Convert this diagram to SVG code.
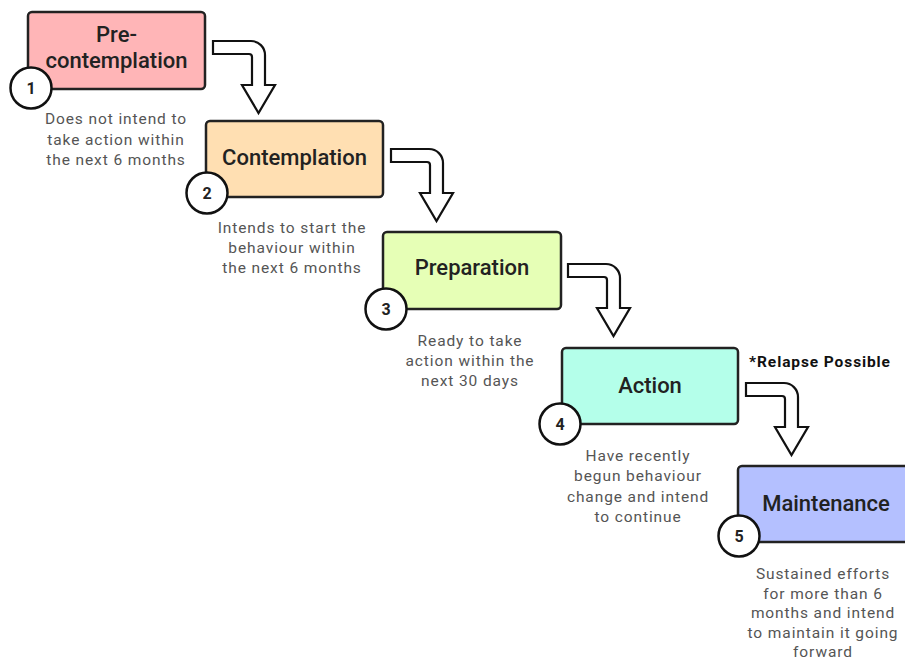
<svg xmlns="http://www.w3.org/2000/svg" width="905" height="661" viewBox="0 0 905 661">
<defs>
<style>
.box{stroke:#222;stroke-width:2.5}
.title{font-family:Roboto,"Liberation Sans",sans-serif;font-weight:500;font-size:22px;fill:#222;text-anchor:middle}
.desc{font-family:Roboto,"Liberation Sans",sans-serif;font-size:15.5px;letter-spacing:0.9px;fill:#555;text-anchor:middle}
.num{font-family:Roboto,"Liberation Sans",sans-serif;font-weight:700;font-size:16px;fill:#222;text-anchor:middle}
.circ{fill:#fff;stroke:#111;stroke-width:2.5}
.arrow{fill:#fff;stroke:#111;stroke-width:2.2;stroke-linejoin:miter}
.note{font-family:Roboto,"Liberation Sans",sans-serif;font-weight:700;font-size:15.5px;letter-spacing:0.9px;fill:#111;text-anchor:middle}
</style>
<path id="bend" d="M0,0 H38 A14,14 0 0 1 52,14 V44 H62 L45.5,72 L29,44 H39 V16 Q39,13 36,13 H0 Z"/>
</defs>
<rect width="905" height="661" fill="#fff"/>
<g id="connectors">
<use href="#bend" class="arrow" x="213" y="41"/>
<use href="#bend" class="arrow" x="391" y="149"/>
<use href="#bend" class="arrow" x="568" y="264"/>
<use href="#bend" class="arrow" x="746" y="383"/>
</g>
<g id="stage1">
<rect class="box" x="28" y="12" width="177" height="77" rx="4" fill="#ffb5b7"/>
<text class="title" x="116.5" y="42">Pre-</text>
<text class="title" x="116.5" y="68">contemplation</text>
<circle class="circ" cx="31" cy="88" r="20.5"/>
<text class="num" x="31" y="94">1</text>
<text class="desc" x="116" y="124">Does not intend to</text>
<text class="desc" x="116" y="144.5">take action within</text>
<text class="desc" x="116" y="165">the next 6 months</text>
</g>
<g id="stage2">
<rect class="box" x="206" y="121" width="177" height="76" rx="4" fill="#ffdfb2"/>
<text class="title" x="294.5" y="165">Contemplation</text>
<circle class="circ" cx="207" cy="193" r="20.5"/>
<text class="num" x="207" y="199">2</text>
<text class="desc" x="292" y="233">Intends to start the</text>
<text class="desc" x="292" y="253">behaviour within</text>
<text class="desc" x="292" y="273">the next 6 months</text>
</g>
<g id="stage3">
<rect class="box" x="383" y="232" width="178" height="77" rx="4" fill="#e6ffb6"/>
<text class="title" x="472" y="275">Preparation</text>
<circle class="circ" cx="386" cy="309" r="20.5"/>
<text class="num" x="386" y="315">3</text>
<text class="desc" x="470" y="346">Ready to take</text>
<text class="desc" x="470" y="366">action within the</text>
<text class="desc" x="470" y="386">next 30 days</text>
</g>
<g id="stage4">
<rect class="box" x="562" y="348" width="176" height="76" rx="4" fill="#b4ffea"/>
<text class="title" x="650" y="393">Action</text>
<circle class="circ" cx="560" cy="424" r="20.5"/>
<text class="num" x="560" y="430">4</text>
<text class="desc" x="638" y="461">Have recently</text>
<text class="desc" x="638" y="481">begun behaviour</text>
<text class="desc" x="638" y="501.5">change and intend</text>
<text class="desc" x="638" y="522">to continue</text>
<text class="note" x="820" y="367">*Relapse Possible</text>
</g>
<g id="stage5">
<rect class="box" x="738" y="466" width="177" height="76" rx="4" fill="#b4c0ff"/>
<text class="title" x="826" y="511">Maintenance</text>
<circle class="circ" cx="739" cy="536" r="20.5"/>
<text class="num" x="739" y="542">5</text>
<text class="desc" x="823" y="579">Sustained efforts</text>
<text class="desc" x="823" y="598.5">for more than 6</text>
<text class="desc" x="823" y="618">months and intend</text>
<text class="desc" x="823" y="637.5">to maintain it going</text>
<text class="desc" x="823" y="657">forward</text>
</g>
</svg>
